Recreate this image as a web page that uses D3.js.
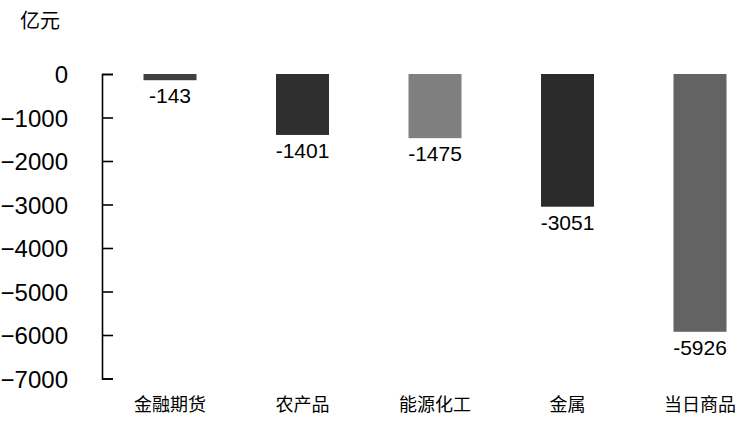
<!DOCTYPE html>
<html>
<head>
<meta charset="utf-8">
<script src="https://cdn.jsdelivr.net/npm/d3@7"></script>
<style>
body { margin: 0; background: #fff; }
svg { display: block; }
</style>
</head>
<body>
<div id="myDiv"></div>
<script>
// data
var categories = ["金融期货", "农产品", "能源化工", "金属", "当日商品"]
var values = [-143, -1401, -1475, -3051, -5926]
var barColors = ["#3f3f3f", "#2f2f2f", "#7f7f7f", "#2b2b2b", "#636363"]
var yTicks = [0, -1000, -2000, -3000, -4000, -5000, -6000, -7000]

var numFont = "'Liberation Sans', Arial, sans-serif"
var cjkFont = "'Noto Sans CJK SC', sans-serif"

let svg = d3.select("#myDiv").append("svg")
    .attr("width", 744)
    .attr("height", 427);

let x = d3.scaleBand()
    .domain(categories)
    .range([103.75, 766.25])
    .paddingInner(0.6)
    .paddingOuter(0.3);

let y = d3.scaleLinear()
    .domain([-7000, 0])
    .range([378.5, 74]);

// y axis, ticks pointing inward
let yAxis = svg.append("g")
    .attr("transform", "translate(102,0)")
    .call(d3.axisLeft(y)
        .tickValues(yTicks)
        .tickFormat(d3.format("d"))
        .tickSizeInner(-11)
        .tickSizeOuter(-11)
        .tickPadding(34));

yAxis.select(".domain").attr("stroke", "#000").attr("stroke-width", 1.6);
yAxis.selectAll(".tick line").attr("stroke", "#000").attr("stroke-width", 1.6);
yAxis.selectAll(".tick text")
    .attr("fill", "#000")
    .attr("font-family", numFont)
    .attr("font-size", 24)
    .attr("dy", "0.36em");

// unit label
svg.append("text")
    .attr("x", 20)
    .attr("y", 28)
    .attr("font-family", cjkFont)
    .attr("font-size", 20)
    .attr("fill", "#000")
    .text("亿元");

// bars
svg.selectAll("rect.bar")
    .data(values)
    .enter()
    .append("rect")
    .attr("class", "bar")
    .attr("x", function(d, i){ return x(categories[i]); })
    .attr("y", y(0))
    .attr("width", x.bandwidth())
    .attr("height", function(d){ return y(d) - y(0); })
    .attr("fill", function(d, i){ return barColors[i]; });

// value labels under each bar
svg.selectAll("text.val")
    .data(values)
    .enter()
    .append("text")
    .attr("class", "val")
    .attr("x", function(d, i){ return x(categories[i]) + x.bandwidth() / 2; })
    .attr("y", function(d){ return y(d) + 23; })
    .attr("text-anchor", "middle")
    .attr("font-family", numFont)
    .attr("font-size", 21)
    .attr("fill", "#000")
    .text(function(d){ return d; });

// category labels
svg.selectAll("text.cat")
    .data(categories)
    .enter()
    .append("text")
    .attr("class", "cat")
    .attr("x", function(d){ return x(d) + x.bandwidth() / 2; })
    .attr("y", 411)
    .attr("text-anchor", "middle")
    .attr("font-family", cjkFont)
    .attr("font-size", 18)
    .attr("fill", "#000")
    .text(function(d){ return d; });
</script>
</body>
</html>
